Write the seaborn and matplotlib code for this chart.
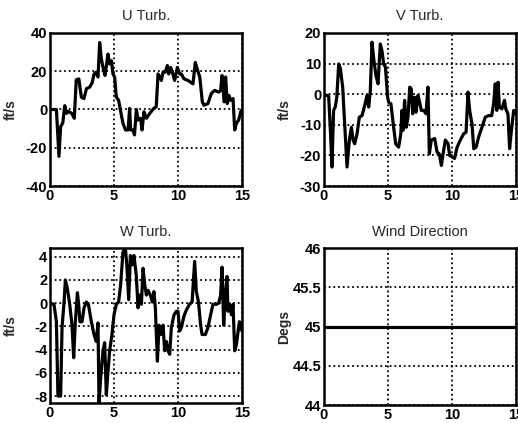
import numpy as np
import pandas as pd
import matplotlib
matplotlib.use("Agg")
import matplotlib.pyplot as plt
import seaborn as sns

# ---------------- data ----------------
u_t = [0, 0.5, 0.7, 0.83, 1.0, 1.15, 1.3, 1.45, 1.7, 1.9, 2.05, 2.25, 2.45, 2.65, 2.85,
       3.1, 3.28, 3.45, 3.6, 3.75, 3.88, 4.0, 4.14, 4.3, 4.53, 4.66, 4.8, 4.92, 5.05, 5.18,
       5.36, 5.5, 5.7, 5.9, 6.1, 6.22, 6.3, 6.48, 6.6, 6.75, 6.88, 7.08, 7.19, 7.34, 7.53,
       7.8, 8.1, 8.3, 8.44, 8.57, 8.7, 8.83, 9.0, 9.17, 9.27, 9.43, 9.6, 9.74, 9.95, 10.13,
       10.26, 10.47, 10.78, 11.17, 11.35, 11.5, 11.7, 11.9, 12.03, 12.34, 12.6, 12.86, 13.18,
       13.33, 13.44, 13.6, 13.72, 13.85, 13.98, 14.1, 14.3, 14.43, 14.56, 14.74, 14.9, 15.0]
u_turb = [0, 0, -24.5, -9, -7, 2, -2, -1, -2, -4.6, 15.5, 16, 6.5, 5.7, 10.9,
          11.7, 13.8, 18.6, 19.5, 17, 35, 27, 22, 17.8, 29, 23.8, 25.5, 18.6, 17, 6.5,
          4.8, -0.3, -7.2, -10.7, -10.7, 0.5, -10.7, -10.7, -13.3, 0, -5.5, -4.6, -10.7, -1.2, -4.6,
          -2, 0.5, 1.4, 18.6, 17, 15.2, 19.5, 19.5, 23, 18.6, 22, 18.6, 15.2, 22, 18.6,
          18.6, 16, 15.2, 13.4, 24.6, 21.2, 17, 4, 2.2, 3.1, 8.3, 10, 9.1,
          10, 17.8, 4, 17, 3.1, 7.4, 4.8, 5.7, -10.7, -7.2, -5.5, -1.2, 0]

v_t = [0, 0.36, 0.5, 0.62, 0.75, 0.88, 1.0, 1.15, 1.28, 1.46, 1.6, 1.8, 1.98, 2.14, 2.27,
       2.4, 2.58, 2.76, 2.97, 3.18, 3.36, 3.49, 3.62, 3.75, 3.9, 4.06, 4.22, 4.4, 4.53, 4.66,
       4.8, 4.97, 5.05, 5.23, 5.44, 5.6, 5.83, 6.0, 6.09, 6.17, 6.3, 6.43, 6.56, 6.7, 6.82,
       6.93, 7.08, 7.19, 7.34, 7.47, 7.6, 7.79, 7.97, 8.12, 8.23, 8.38, 8.65, 8.83, 9.0, 9.17,
       9.3, 9.48, 9.69, 9.82, 10.0, 10.2, 10.4, 10.65, 10.9, 11.1, 11.25, 11.38, 11.56, 11.7,
       11.88, 12.08, 12.34, 12.6, 12.86, 13.1, 13.25, 13.38, 13.5, 13.6, 13.7, 13.9, 14.1,
       14.2, 14.37, 14.5, 14.64, 14.82, 15.0]
v_turb = [-0.4, -0.4, -11.8, -23.8, -5.3, -4.2, -1, 9.9, 8.3, 2.3, -8.6, -23.8, -15, -10.8, -15,
          -16.2, -13, -7.5, -7, -3.7, -0.4, -4.2, 1.2, 17, 11, 6.1, 3.4, 16.4, 14.2, 9.9,
          8.8, -1, -2.6, -3.2, -10.8, -16.2, -17.3, -13, -5.3, -11.8, -2, -10.8, -7.5, 2.3, 1.7,
          -6.4, -1, -5.9, -0.4, -2.6, -5.3, -5.3, -6.4, 2.3, -19.5, -15, -14.5, -18.9, -19.5, -23.3,
          -19.5, -15, -16.2, -20, -20.5, -21, -17.3, -15, -13, -12.4, 0.7, -5.3, -9.7, -17.8,
          -17.3, -14, -10.8, -7.5, -7, -7, -3.2, 3.4, -5.3, 3.9, -4.2, -4.8, -2,
          -4.8, -6.4, -17.8, -11.8, -5.3, -6.4]

w_t = [0, 0.31, 0.5, 0.62, 0.83, 0.94, 1.1, 1.2, 1.35, 1.54, 1.72, 1.85, 1.98, 2.14, 2.24,
       2.34, 2.5, 2.66, 2.84, 3.0, 3.23, 3.44, 3.62, 3.75, 3.83, 3.96, 4.14, 4.27, 4.4, 4.53,
       4.66, 4.84, 5.0, 5.18, 5.36, 5.52, 5.7, 5.89, 6.0, 6.15, 6.28, 6.42, 6.56, 6.74, 6.88,
       7.0, 7.14, 7.27, 7.4, 7.53, 7.66, 7.84, 8.0, 8.12, 8.23, 8.39, 8.52, 8.65, 8.83, 8.96,
       9.09, 9.22, 9.35, 9.48, 9.69, 9.87, 10.0, 10.13, 10.26, 10.47, 10.65, 10.9, 11.1, 11.3,
       11.43, 11.6, 11.77, 11.88, 12.14, 12.34, 12.55, 12.73, 13.0, 13.18, 13.33, 13.44, 13.57,
       13.7, 13.83, 13.9, 14.04, 14.17, 14.3, 14.43, 14.56, 14.7, 14.8, 15.0]
w_turb = [0, -0.1, -1.6, -8, -8, -2.1, 0.1, 2, 1.3, -0.1, -1.9, -4.7, -1.6, 0.9, -0.1,
          -1.6, -1.6, -0.4, 0.1, -0.1, -1.6, -2.7, -3.3, -1.7, -8.6, -6.4, -4.1, -3.4, -7.9, -5.9,
          -4.1, -2.7, -1, -0.1, 0.1, 1.6, 4.4, 4.7, 3.3, 0.3, 4.1, 3.3, 4.1, 2.4, -0.4,
          0.7, -0.1, 3, 1.6, 0.7, 1.1, 0.7, 0.1, 1.0, -0.4, -5, -1.9, -2.7, -1.9, -4.1,
          -3.3, -4.1, -4.4, -2.1, -1, -0.7, -0.7, -2.4, -2.1, -1.1, -0.6, -0.1, 0.1, 3.6,
          1, 0.1, -1.9, -2.7, -2.7, -2.1, -1, -0.1, -0.1, 0, 0.7, 3.1, -1.9,
          0.7, 2.3, -0.7, -0.1, -1, -0.1, -4.1, -3.6, -2.4, -1.6, -2.4]

wind_t = [0, 15]
wind_deg = [45, 45]

titles = ["U Turb.", "V Turb.", "W Turb.", "Wind Direction"]
ylabels = ["ft/s", "ft/s", "ft/s", "Degs"]
x_ticks = [0, 5, 10, 15]
u_ticks = [-40, -20, 0, 20, 40]
v_ticks = [-30, -20, -10, 0, 10, 20]
w_ticks = [-8, -6, -4, -2, 0, 2, 4]
wind_ticks = [44, 44.5, 45, 45.5, 46]
wind_ticklabels = ["44", "44.5", "45", "45.5", "46"]

assert len(u_t) == len(u_turb) and len(v_t) == len(v_turb) and len(w_t) == len(w_turb)

# ---------------- figure ----------------
sns.set_style("white")
plt.rcParams["font.family"] = ["Liberation Sans", "DejaVu Sans"]
plt.rcParams["axes.unicode_minus"] = False

W, H = 518, 423
fig = plt.figure(figsize=(W / 100, H / 100), dpi=100)

def px_axes(x0, y0, x1, y1):
    return fig.add_axes([x0 / W, 1 - y1 / H, (x1 - x0) / W, (y1 - y0) / H])

axes = [
    px_axes(50, 33, 242, 186),
    px_axes(324, 33, 516, 186),
    px_axes(50, 248, 242, 403),
    px_axes(324, 248, 516, 405),
]

series = [(u_t, u_turb), (v_t, v_turb), (w_t, w_turb), (wind_t, wind_deg)]
ylims = [(-40, 40), (-30, 20), (-8.6, 4.75), (44, 46)]
yticks = [u_ticks, v_ticks, w_ticks, wind_ticks]

for i, ax in enumerate(axes):
    t, v = series[i]
    df = pd.DataFrame({"t": t, "v": v})
    sns.lineplot(data=df, x="t", y="v", ax=ax, color="black", linewidth=2.3,
                 estimator=None, sort=False, zorder=3)
    ax.set_xlim(0, 15)
    ax.set_ylim(*ylims[i])
    ax.set_xticks(x_ticks)
    ax.set_yticks(yticks[i])
    if i == 3:
        ax.set_yticklabels(wind_ticklabels)
    ax.grid(True, color="black", linestyle=(0, (1, 1.6)), linewidth=1.3)
    ax.set_axisbelow(False)
    for sp in ax.spines.values():
        sp.set_color("black")
        sp.set_linewidth(1.8)
        sp.set_visible(True)
    ax.tick_params(direction="in", length=3, width=1.2, colors="black",
                   labelsize=10.5, pad=2)
    for lab in ax.get_xticklabels() + ax.get_yticklabels():
        lab.set_fontweight("bold")
    ax.set_xlabel("")
    ax.set_ylabel(ylabels[i], fontsize=10, fontweight="bold")
    ax.yaxis.set_label_coords(-0.17, 0.5)
    ax.set_title(titles[i], fontsize=10.5, pad=9)

fig.savefig("out.png", dpi=100)
